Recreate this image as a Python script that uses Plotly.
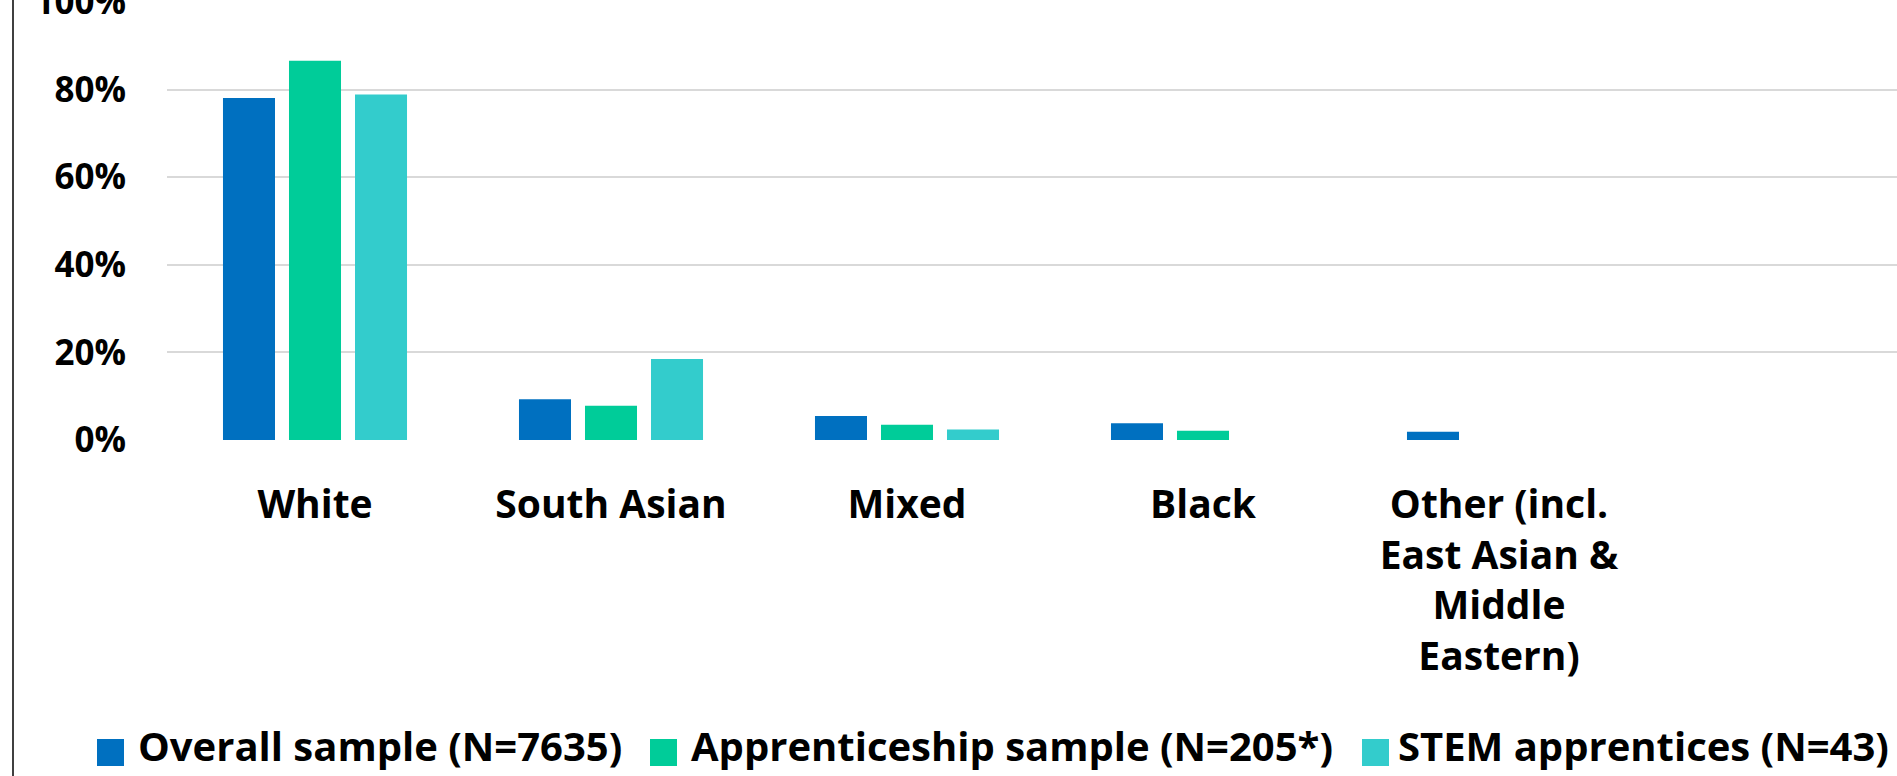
import plotly.graph_objects as go

# Ethnic background of respondents, % of each sample
categories = [
    "White",
    "South Asian",
    "Mixed",
    "Black",
    "Other (incl.<br>East Asian &<br>Middle<br>Eastern)",
]
series_names = [
    "Overall sample (N=7635)",
    "Apprenticeship sample (N=205*)",
    "STEM apprentices (N=43)",
]
overall = [78.1, 9.3, 5.5, 3.8, 1.9]
apprenticeship = [86.6, 7.8, 3.5, 2.1, 0.0]
stem = [78.9, 18.5, 2.4, 0.0, 0.0]
y_ticks = [0, 20, 40, 60, 80, 100]
y_tick_labels = ["0%", "20%", "40%", "60%", "80%", "100%"]

colors = ["#0070C0", "#00CC99", "#33CCCC"]
FONT = "'Open Sans', Lato, 'DejaVu Sans', sans-serif"

W, H = 1897, 776
ML, MT, MB, MR = 167, 2, 336, 0

fig = go.Figure()
for name, vals, col in zip(series_names, [overall, apprenticeship, stem], colors):
    fig.add_trace(go.Bar(
        x=categories, y=vals, name=name, marker_color=col,
        marker_line_width=0, showlegend=False,
    ))

plot_w = W - ML - MR
cat_px = 296.0
span = plot_w / cat_px

fig.update_layout(
    width=W, height=H,
    margin=dict(l=ML, r=MR, t=MT, b=MB, pad=0, autoexpand=False),
    paper_bgcolor="white", plot_bgcolor="white",
    barmode="group", bargap=0.331, bargroupgap=0.212,
    font=dict(family=FONT, color="black"),
    xaxis=dict(
        type="category", range=[-0.5, -0.5 + span], automargin=False,
        showgrid=False, zeroline=False, showline=False, ticks="",
        tickfont=dict(family=FONT, size=39, color="black", weight="bold"),
        ticklabelstandoff=38,
    ),
    yaxis=dict(
        range=[0, 100], tickmode="array", tickvals=y_ticks, ticktext=y_tick_labels,
        automargin=False,
        showgrid=True, gridcolor="#D9D9D9", gridwidth=2,
        zeroline=False, showline=False, ticks="",
        tickfont=dict(family=FONT, size=35, color="black", weight="bold"),
        ticklabelstandoff=40, ticklabeloverflow="allow",
    ),
)

# Outer chart frame edge on the left
fx = (13 - ML) / plot_w
fig.add_shape(type="line", xref="paper", yref="paper",
              x0=fx, x1=fx, y0=-2, y1=2,
              line=dict(color="#404040", width=2))

# Legend row along the bottom: coloured squares followed by bold labels
sq_left = [97, 650, 1362]
txt_left = [136, 689, 1396]
sq = 27
sq_top, sq_bot = 739, 766
def px_x(px):
    return (px - ML) / plot_w
def px_y(py):
    return (H - MB - py) / (H - MT - MB)
for name, col, sl, tl in zip(series_names, colors, sq_left, txt_left):
    fig.add_shape(type="rect", xref="paper", yref="paper",
                  x0=px_x(sl), x1=px_x(sl + sq), y0=px_y(sq_bot), y1=px_y(sq_top),
                  fillcolor=col, line_width=0)
    fig.add_annotation(xref="paper", yref="paper", x=px_x(tl), y=px_y(745),
                       text="<b>" + name + "</b>", showarrow=False,
                       xanchor="left", yanchor="middle",
                       font=dict(family=FONT, size=40, color="black"))

fig.write_html("out.html")
